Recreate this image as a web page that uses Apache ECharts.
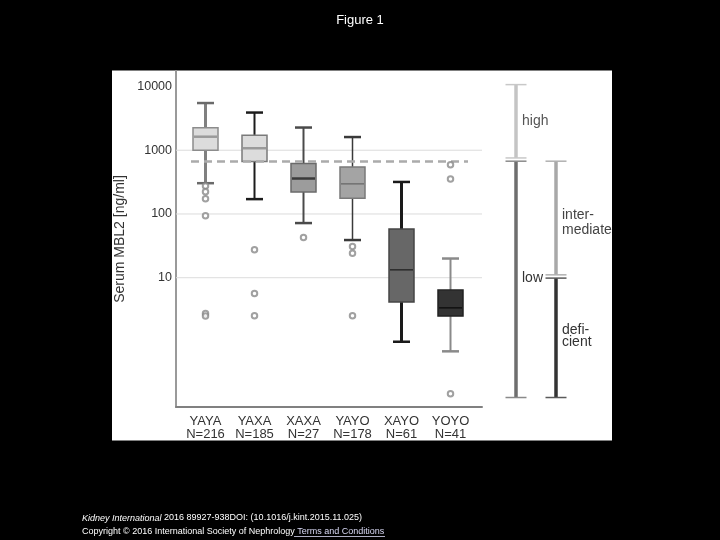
<!DOCTYPE html>
<html><head><meta charset="utf-8">
<script src="https://cdn.jsdelivr.net/npm/echarts@6/dist/echarts.min.js"></script>
<style>html,body{margin:0;padding:0;background:#000}#c{width:720px;height:540px}</style>
</head><body><div id="c"></div>
<script>
// ---- data ----
const categories = ['YAYA', 'YAXA', 'XAXA', 'YAYO', 'XAYO', 'YOYO'];
const groupSizes = [216, 185, 27, 178, 61, 41];
const whiskerLow = [304, 171, 72, 39, 0.99, 0.70];
const q1 = [1000, 663, 222, 177, 4.15, 2.5];
const medians = [1630, 1075, 360, 297, 13.3, 3.37];
const q3 = [2260, 1718, 620, 547, 58, 6.4];
const whiskerHigh = [5500, 3900, 2270, 1610, 318, 20];
const outlierGroup = [0, 0, 0, 0, 0, 0, 1, 1, 1, 2, 3, 3, 3, 5, 5, 5];
const outlierValues = [275, 224, 174, 94, 2.75, 2.5, 27.4, 5.65, 2.53, 42.6, 30.8, 24.3, 2.53, 594, 355, 0.151];
const cutoff = 670;
const gridValues = [10, 100, 1000];
const yTickValues = [10, 100, 1000, 10000];
const yTickLabels = ['10', '100', '1000', '10000'];
const rangeLabels = ['high', 'low', 'inter-\nmediate', 'defi-\ncient'];
const rangeColumn = [0, 0, 1, 1];
const rangeLow = [757, 0.132, 11.1, 0.132];
const rangeHigh = [10700, 673, 673, 9.86];

// ---- styles ----
const FONT = "'Liberation Sans', Arial, sans-serif";
const boxFill = ['#dcdcdc', '#dcdcdc', '#9c9c9c', '#a4a4a4', '#676767', '#333333'];
const boxBorder = ['#8c8c8c', '#7a7a7a', '#6a6a6a', '#7a7a7a', '#454545', '#222222'];
const whiskerColor = ['#808080', '#1c1c1c', '#4a4a4a', '#3a3a3a', '#1a1a1a', '#8a8a8a'];
const capColor = ['#6a6a6a', '#1c1c1c', '#4a4a4a', '#3a3a3a', '#1a1a1a', '#8a8a8a'];
const whiskerWidth = [3, 2, 2, 1.5, 3, 2];
const medianColor = ['#9a9a9a', '#9a9a9a', '#3a3a3a', '#707070', '#2a2a2a', '#111111'];
const medianWidth = [2.5, 2.5, 2.5, 1.5, 1.5, 1.5];
const rangeColor = ['#c4c4c4', '#6e6e6e', '#a8a8a8', '#333333'];
const rangeCapColor = ['#c8c8c8', '#8a8a8a', '#b0b0b0', '#5a5a5a'];
const rangeTextColor = ['#555555', '#333333', '#444444', '#333333'];
const rangeLineHeight = [15, 15, 15.5, 12];
const rangeTextDy = [0, -1.5, 4.5, -2];

const Y_MIN = 0.0937, Y_MAX = 17500;

const chart = echarts.init(document.getElementById('c'), null, {renderer: 'canvas'});

function renderBox(params, api) {
  const i = params.dataIndex;
  const c = api.value(0);
  const cx = api.coord([c, api.value(3)])[0];
  const y = k => api.coord([c, api.value(k)])[1];
  const yLo = y(1), yQ1 = y(2), yMed = y(3), yQ3 = y(4), yHi = y(5);
  const hb = 12.5, hc = 8.5;
  return {
    type: 'group', children: [
      {type: 'line', shape: {x1: cx, y1: yQ1, x2: cx, y2: yLo}, style: {stroke: whiskerColor[i], lineWidth: whiskerWidth[i]}},
      {type: 'line', shape: {x1: cx, y1: yQ3, x2: cx, y2: yHi}, style: {stroke: whiskerColor[i], lineWidth: whiskerWidth[i]}},
      {type: 'line', shape: {x1: cx - hc, y1: yLo, x2: cx + hc, y2: yLo}, style: {stroke: capColor[i], lineWidth: 2.5}},
      {type: 'line', shape: {x1: cx - hc, y1: yHi, x2: cx + hc, y2: yHi}, style: {stroke: capColor[i], lineWidth: 2.5}},
      {type: 'rect', shape: {x: cx - hb, y: yQ3, width: 2 * hb, height: yQ1 - yQ3}, style: {fill: boxFill[i], stroke: boxBorder[i], lineWidth: 1.5}},
      {type: 'line', shape: {x1: cx - hb + 1, y1: yMed, x2: cx + hb - 1, y2: yMed}, style: {stroke: medianColor[i], lineWidth: medianWidth[i]}}
    ]
  };
}

function renderRange(params, api) {
  const i = params.dataIndex;
  const col = api.value(0);
  const lo = api.value(1), hi = api.value(2);
  const top = api.coord([col, hi]);
  const bot = api.coord([col, lo]);
  const cx = top[0];
  const midY = api.coord([col, Math.sqrt(lo * hi)])[1];
  const hc = 10.5;
  return {
    type: 'group', children: [
      {type: 'line', shape: {x1: cx, y1: top[1], x2: cx, y2: bot[1]}, style: {stroke: rangeColor[i], lineWidth: 3.5}},
      {type: 'line', shape: {x1: cx - hc, y1: top[1], x2: cx + hc, y2: top[1]}, style: {stroke: rangeCapColor[i], lineWidth: 1.5}},
      {type: 'line', shape: {x1: cx - hc, y1: bot[1], x2: cx + hc, y2: bot[1]}, style: {stroke: rangeCapColor[i], lineWidth: 1.5}},
      {type: 'text', x: cx + 6, y: midY + rangeTextDy[i], style: {text: rangeLabels[i], fill: rangeTextColor[i], font: '14px ' + FONT, align: 'left', verticalAlign: 'middle', lineHeight: rangeLineHeight[i]}}
    ]
  };
}

function renderGridLine(params, api) {
  const cs = params.coordSys;
  const yy = api.coord([0, api.value(1)])[1];
  return {type: 'line', shape: {x1: cs.x, y1: yy, x2: cs.x + cs.width, y2: yy}, style: {stroke: '#dcdcdc', lineWidth: 1}};
}

const logY = (gi, show) => ({
  type: 'log', logBase: 10, gridIndex: gi, min: Y_MIN, max: Y_MAX, show: show
});

const option = {
  backgroundColor: '#000',
  animation: false,
  title: {text: 'Figure 1', left: 'center', top: 9, textStyle: {color: '#fff', fontSize: 13, fontWeight: 'normal', fontFamily: FONT}},
  graphic: [
    {type: 'rect', z: -10, shape: {x: 112, y: 70.5, width: 500, height: 370}, style: {fill: '#fff'}},
    {type: 'text', x: 82, y: 518, style: {text: '{i|Kidney International} 2016 89927-938DOI: (10.1016/j.kint.2015.11.025)', fill: '#fff', font: '9px ' + FONT, verticalAlign: 'middle', rich: {i: {fontStyle: 'italic', fill: '#fff', fontSize: 9, fontFamily: FONT}}}},
    {type: 'text', x: 82, y: 532, style: {text: 'Copyright \u00a9 2016 International Society of Nephrology {u|Terms and Conditions}', fill: '#fff', font: '9px ' + FONT, verticalAlign: 'middle', rich: {u: {fill: '#d8d8f4', fontSize: 9, fontFamily: FONT}}}},
    {type: 'line', shape: {x1: 294, y1: 536.5, x2: 385, y2: 536.5}, style: {stroke: '#d8d8f4', lineWidth: 0.8}}
  ],
  grid: [
    {left: 176, right: 238, top: 71, bottom: 133},
    {left: 181, right: 245, top: 71, bottom: 133},
    {left: 496, right: 144, top: 71, bottom: 133}
  ],
  xAxis: [
    {type: 'value', gridIndex: 0, min: 0, max: 1, axisLine: {show: true, onZero: false, lineStyle: {color: '#808080', width: 2}}, axisTick: {show: false}, axisLabel: {show: false}, splitLine: {show: false}},
    {type: 'category', gridIndex: 1, data: categories, axisLine: {show: false}, axisTick: {show: false}, splitLine: {show: false},
      axisLabel: {interval: 0, margin: 7.5, color: '#333', fontSize: 13, lineHeight: 13.5, fontFamily: FONT,
        formatter: (v, i) => v + '\nN=' + groupSizes[i]}},
    {type: 'category', gridIndex: 2, data: ['0', '1'], show: false}
  ],
  yAxis: [
    Object.assign(logY(0, true), {
      axisLine: {show: true, onZero: false, lineStyle: {color: '#9a9a9a', width: 2}},
      axisTick: {show: false}, splitLine: {show: false}, minorTick: {show: false},
      axisLabel: {margin: 4, color: '#333', fontSize: 12.5, fontFamily: FONT, showMinLabel: false, showMaxLabel: false,
        formatter: v => {
          const k = yTickValues.findIndex(t => Math.abs(Math.log10(v) - Math.log10(t)) < 1e-6);
          return k >= 0 ? yTickLabels[k] : '';
        }},
      name: 'Serum MBL2 [ng/ml]', nameLocation: 'middle', nameGap: 49,
      nameTextStyle: {color: '#333', fontSize: 14, fontFamily: FONT}
    }),
    logY(1, false),
    logY(2, false)
  ],
  series: [
    {type: 'custom', name: 'grid', xAxisIndex: 0, yAxisIndex: 0, z: 1, silent: true,
      renderItem: renderGridLine, data: gridValues.map(v => [0, v]), encode: {x: 0, y: 1}},
    {type: 'custom', name: 'MBL2', xAxisIndex: 1, yAxisIndex: 1, z: 2, silent: true,
      renderItem: renderBox,
      data: categories.map((c, i) => [i, whiskerLow[i], q1[i], medians[i], q3[i], whiskerHigh[i]]),
      encode: {x: 0, y: [1, 2, 3, 4, 5]},
      markLine: {silent: true, symbol: 'none', label: {show: false}, z: 3,
        lineStyle: {type: [8, 5], width: 2.5, color: '#ababab'},
        data: [[{x: 191, yAxis: cutoff}, {x: 468, yAxis: cutoff}]]}
    },
    {type: 'scatter', name: 'outliers', xAxisIndex: 1, yAxisIndex: 1, z: 4, silent: true,
      symbol: 'emptyCircle', symbolSize: 5.5,
      itemStyle: {color: '#8a8a8a', borderColor: '#8a8a8a', borderWidth: 1.3},
      data: outlierGroup.map((g, k) => [g, outlierValues[k]])},
    {type: 'custom', name: 'ranges', xAxisIndex: 2, yAxisIndex: 2, z: 2, silent: true,
      renderItem: renderRange,
      data: rangeLabels.map((l, i) => [rangeColumn[i], rangeLow[i], rangeHigh[i]]),
      encode: {x: 0, y: [1, 2]}}
  ]
};
chart.setOption(option);
</script>
</body></html>
